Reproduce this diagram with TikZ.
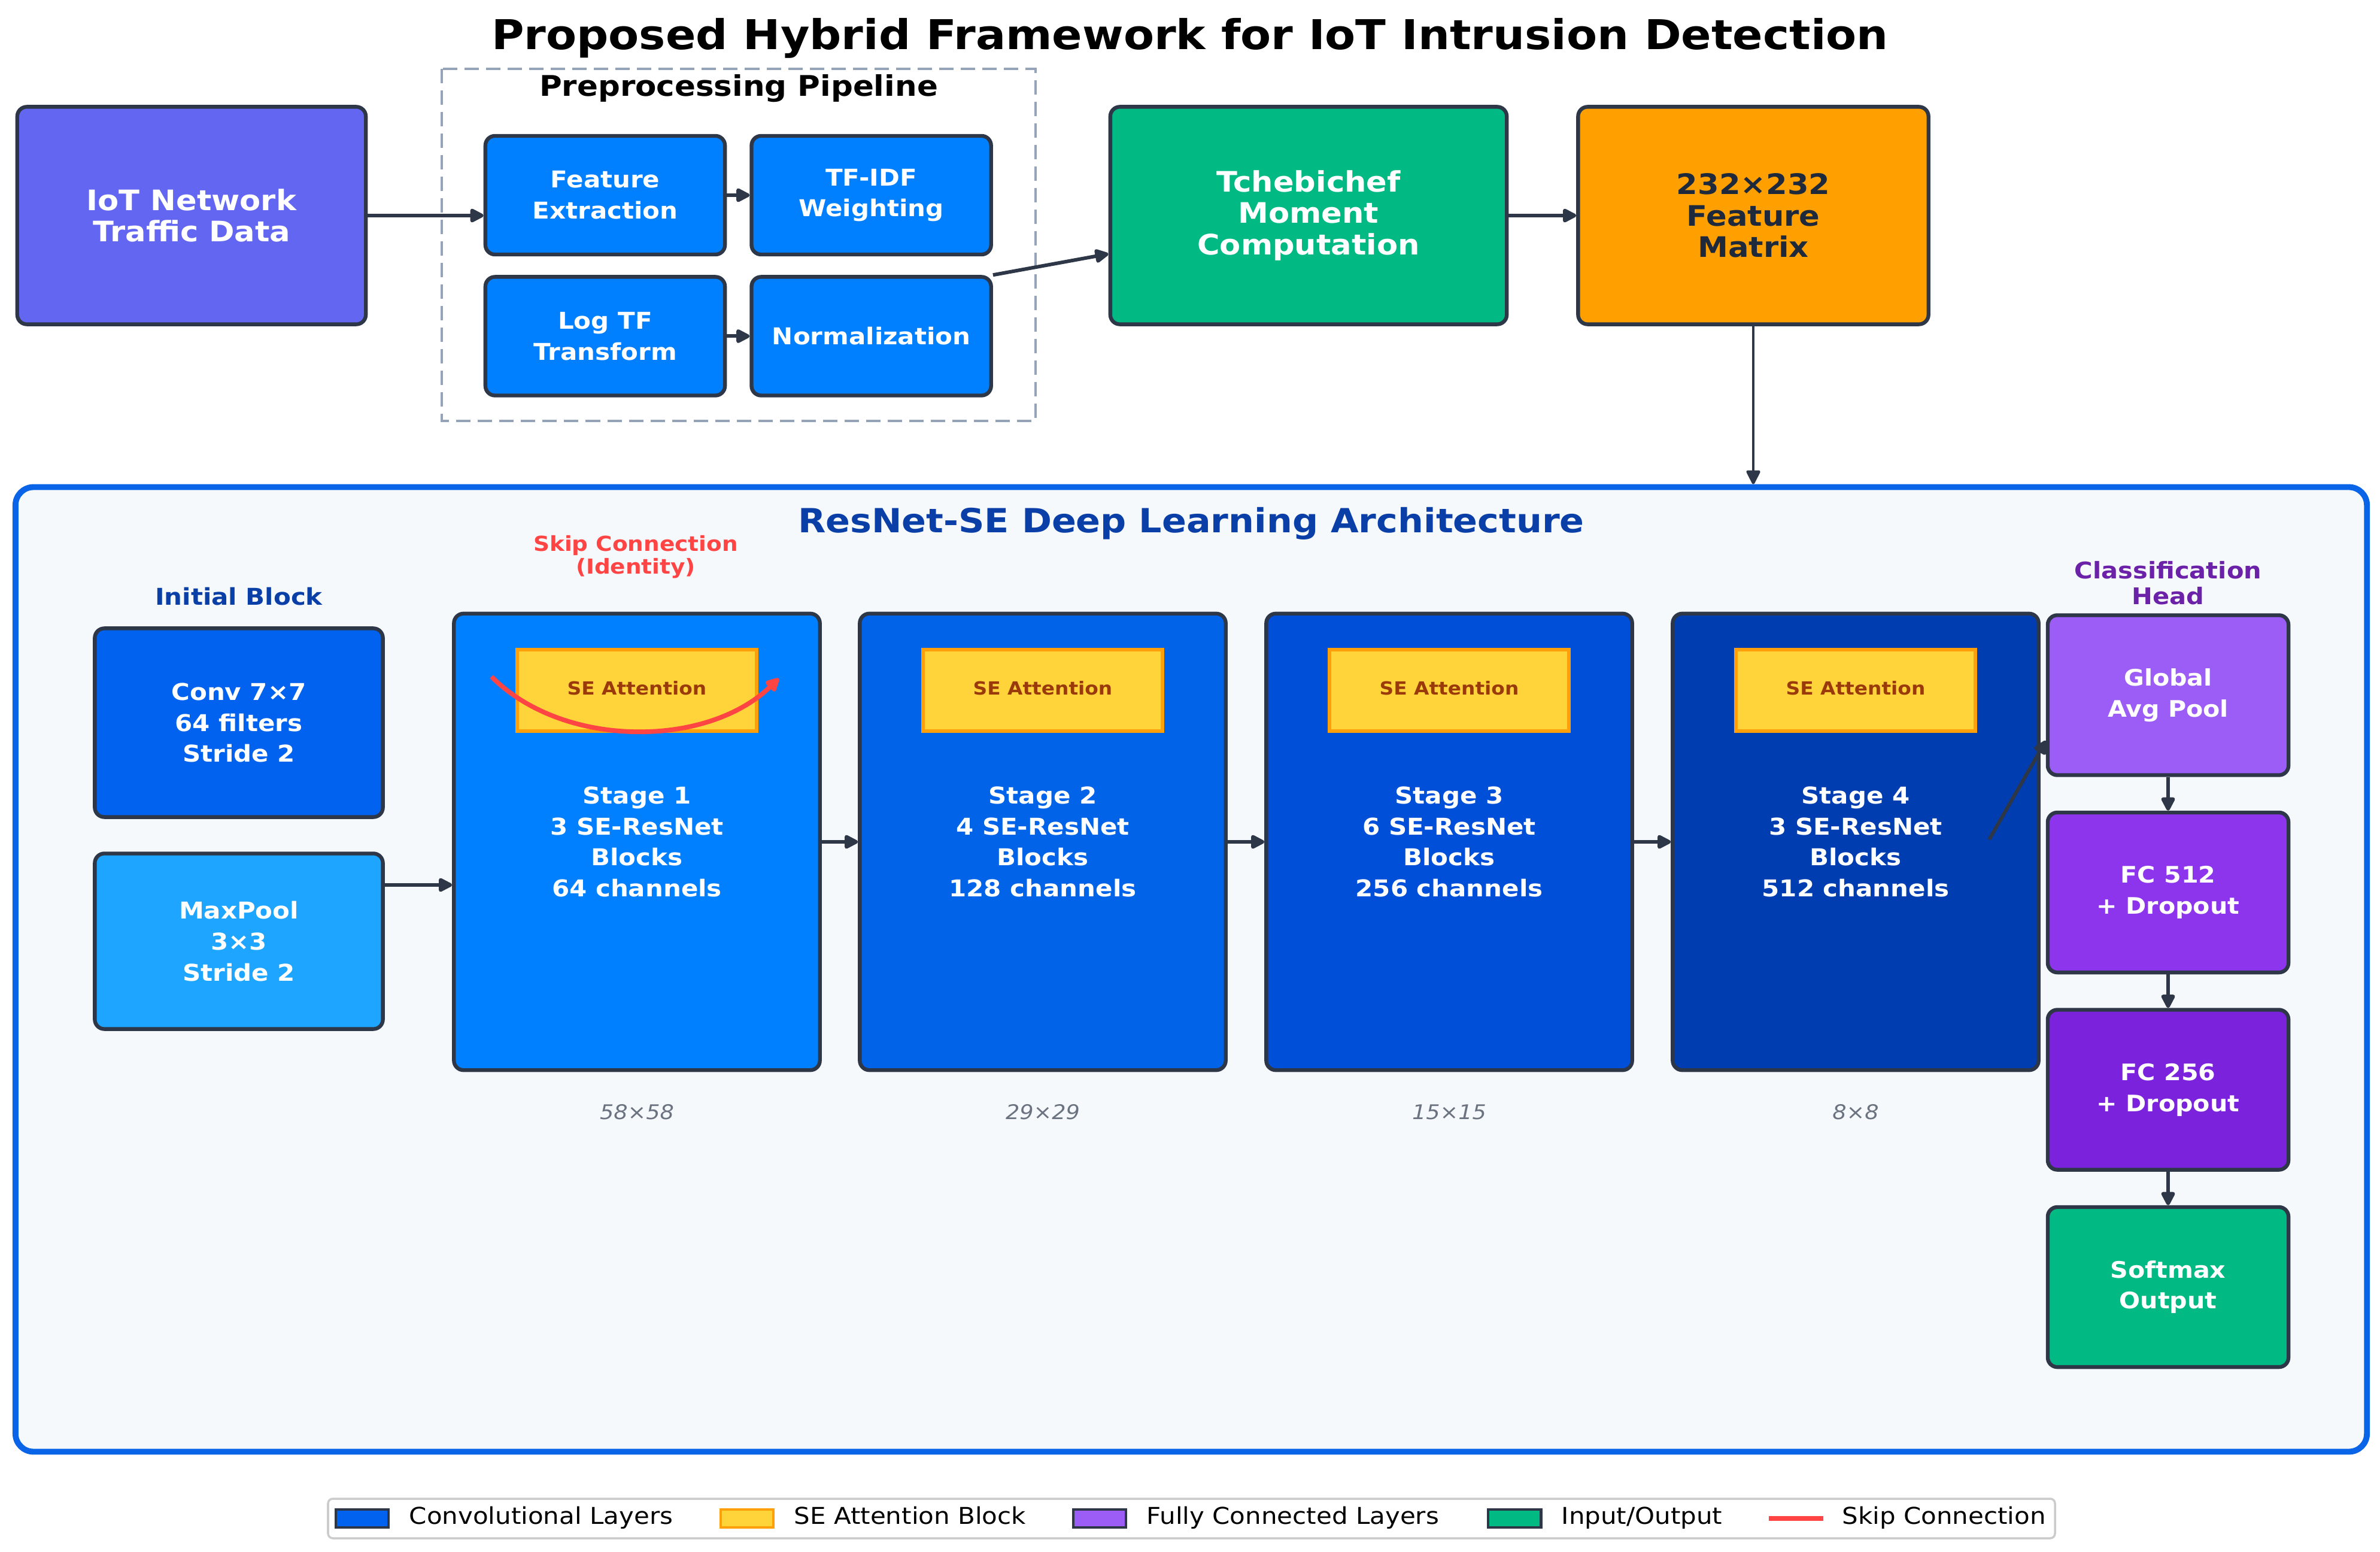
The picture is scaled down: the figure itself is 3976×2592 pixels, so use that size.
\documentclass[tikz,border=0pt]{standalone}
\usepackage{fontspec}
\setmainfont{DejaVu Sans}[FakeStretch=1.085]
\usetikzlibrary{positioning,arrows.meta}

\definecolor{iotc}{HTML}{6366F1}
\definecolor{prepc}{HTML}{0080FF}
\definecolor{stagea}{HTML}{0080FF}
\definecolor{stageb}{HTML}{0063E8}
\definecolor{stagec}{HTML}{004FD8}
\definecolor{staged}{HTML}{003DB0}
\definecolor{convc}{HTML}{0062EE}
\definecolor{poolc}{HTML}{1EA5FF}
\definecolor{greenc}{HTML}{00B983}
\definecolor{orangec}{HTML}{FFA000}
\definecolor{sefill}{HTML}{FFD43B}
\definecolor{seedge}{HTML}{FF9F0A}
\definecolor{setext}{HTML}{9A3A0A}
\definecolor{gapc}{HTML}{9C5CF6}
\definecolor{fcac}{HTML}{8C35EC}
\definecolor{fcbc}{HTML}{7A22DC}
\definecolor{edgec}{HTML}{2D3748}
\definecolor{archc}{HTML}{0A64E8}
\definecolor{archfill}{HTML}{F6F9FC}
\definecolor{navyc}{HTML}{0B3FA8}
\definecolor{headc}{HTML}{6B21A8}
\definecolor{skipc}{HTML}{FF4444}
\definecolor{dimc}{HTML}{6B7280}
\definecolor{dashc}{HTML}{94A3B8}
\definecolor{matc}{HTML}{1E293B}

\begin{document}
\begin{tikzpicture}[x=0.01cm,y=-0.01cm,
    >={Triangle[length=0.26cm,width=0.25cm,round]},
    box/.style={draw=edgec,line width=1.8pt,rounded corners=0.16cm,align=center,
        text=white,inner sep=0pt,font=\bfseries\fontsize{11}{14.7}\selectfont},
    bigbox/.style={box,minimum height=3.63cm,font=\bfseries\fontsize{13.4}{14.9}\selectfont},
    prepbox/.style={box,fill=prepc,minimum width=4cm,minimum height=1.98cm},
    initbox/.style={box,minimum width=4.81cm},
    stagebox/.style={box,minimum width=6.11cm,minimum height=7.62cm},
    sebox/.style={draw=seedge,line width=1.8pt,fill=sefill,text=setext,
        minimum width=4cm,minimum height=1.36cm,
        font=\bfseries\fontsize{8.6}{10}\selectfont},
    headbox/.style={box,minimum width=4.02cm,minimum height=2.67cm,
        font=\bfseries\fontsize{10.8}{14.7}\selectfont},
    flow/.style={->,draw=edgec,line width=1.7pt},
    dimtext/.style={text=dimc,font=\itshape\fontsize{9.6}{11}\selectfont},
    legtext/.style={anchor=west,inner sep=0pt,text height=0.75em,text depth=0.22em,
        font=\fontsize{11}{12}\selectfont}]
    \fill[white] (0,0) rectangle (3976,2592);
    \useasboundingbox (0,0) rectangle (3976,2592);

    %% title
    \node[font=\bfseries\fontsize{19.5}{22}\selectfont] (title) at (1988,64)
        {Proposed Hybrid Framework for IoT Intrusion Detection};

    %% input and preprocessing pipeline
    \node[bigbox,fill=iotc,minimum width=5.82cm] (iot) at (320,360) {IoT Network\\Traffic Data};
    \draw[dashc,line width=1.4pt,dash pattern=on 0.24cm off 0.12cm] (738,115) rectangle (1730,703);
    \node[font=\bfseries\fontsize{13.5}{15}\selectfont] (preptitle) at (1234,148) {Preprocessing Pipeline};
    \node[prepbox] (fe) at (1011,326) {Feature\\Extraction};
    \node[prepbox,right=0.38cm of fe] (tf) {TF-IDF\\Weighting};
    \node[prepbox,below=0.31cm of fe] (lt) {Log TF\\Transform};
    \node[prepbox,right=0.38cm of lt] (nm) {Normalization};
    \node[bigbox,fill=greenc,minimum width=6.62cm] (tch) at (2186,360) {Tchebichef\\Moment\\Computation};
    \node[bigbox,fill=orangec,text=matc,minimum width=5.85cm] (mat) at (2929,360) {232×232\\Feature\\Matrix};

    \draw[flow] (iot.east) -- (iot.east -| fe.west);
    \draw[flow] (fe.east) -- (tf.west);
    \draw[flow] (lt.east) -- (nm.west);
    \draw[flow] (nm.north east) -- ([yshift=-0.64cm]tch.west);
    \draw[flow] (tch.east) -- (mat.west);

    %% resnet-se architecture
    \node[draw=archc,line width=2.8pt,fill=archfill,rounded corners=0.3cm,inner sep=0pt,
        minimum width=39.26cm,minimum height=16.1cm] (arch) at (1990,1619) {};
    \draw[flow,line width=1.3pt] (mat.south) -- (mat.south |- arch.north);
    \node[text=navyc,font=\bfseries\fontsize{15.8}{18}\selectfont] (archtitle) at (1990,874)
        {ResNet-SE Deep Learning Architecture};

    %% initial block
    \node[text=navyc,font=\bfseries\fontsize{11}{13}\selectfont] (inittitle) at (399,996) {Initial Block};
    \node[initbox,fill=convc,minimum height=3.15cm] (conv) at (399,1207) {Conv 7×7\\64 filters\\Stride 2};
    \node[initbox,fill=poolc,minimum height=2.93cm] (pool) at (399,1572) {MaxPool\\3×3\\Stride 2};

    %% stages
    \foreach \i/\x/\col/\blk/\chan/\sz in {1/1064/stagea/3/64/58, 2/1742/stageb/4/128/29,
        3/2421/stagec/6/256/15, 4/3100/staged/3/512/8} {
        \node[stagebox,fill=\col] (s\i) at (\x,1406) {Stage \i\\\blk{} SE-ResNet\\Blocks\\\chan{} channels};
        \node[sebox,below=0.6cm of s\i.north] (se\i) {\raisebox{0.08cm}{SE Attention}};
        \node[dimtext,below=0.42cm of s\i] (dim\i) {\sz×\sz};
    }
    \coordinate (poolout) at ([yshift=0.94cm]pool.east);
    \draw[flow] (poolout) -- (poolout -| s1.west);
    \foreach \i/\j in {1/2,2/3,3/4}
        \draw[flow] (s\i.east) -- (s\j.west);

    %% skip connection
    \node[text=skipc,align=center,font=\bfseries\fontsize{9.8}{10.8}\selectfont] (skiptitle) at (1062,930)
        {Skip Connection\\(Identity)};
    \coordinate (skipL) at (821,1130);
    \coordinate (skipR) at (1301,1133);
    \draw[->,skipc,line width=2.2pt] (skipL) .. controls (940,1250) and (1180,1250) .. (skipR);

    %% classification head
    \node[text=headc,align=center,font=\bfseries\fontsize{10.9}{12.2}\selectfont] (headtitle) at (3622,974)
        {Classification\\Head};
    \node[headbox,fill=gapc] (gap) at (3622,1161) {Global\\Avg Pool};
    \node[headbox,fill=fcac,below=0.56cm of gap] (fca) {FC 512\\+ Dropout};
    \node[headbox,fill=fcbc,below=0.56cm of fca] (fcb) {FC 256\\+ Dropout};
    \node[headbox,fill=greenc,below=0.56cm of fcb] (soft) {Softmax\\Output};
    \coordinate (s4out) at (3323,1402);
    \draw[flow] (s4out) -- ([yshift=-0.76cm]gap.west);
    \draw[flow] (gap) -- (fca);
    \draw[flow] (fca) -- (fcb);
    \draw[flow] (fcb) -- (soft);

    %% legend
    \draw[black!20,line width=1pt,fill=white,rounded corners=0.08cm] (548,2503) rectangle (3433,2569);
    \foreach \x/\col/\edge/\txt in {561/convc/edgec/{Convolutional Layers},
        1204/sefill/seedge/{SE Attention Block}, 1793/gapc/edgec/{Fully Connected Layers},
        2486/greenc/edgec/{Input/Output}} {
        \filldraw[fill=\col,draw=\edge,line width=1.4pt] (\x,2521) rectangle ++(88,30);
        \node[legtext] (leg\x) at (\x+122,2536) {\txt};
    }
    \draw[skipc,line width=2.5pt] (2955,2536) -- (3046,2536);
    \node[legtext] (legskip) at (3077,2536) {Skip Connection};
\end{tikzpicture}
\end{document}
